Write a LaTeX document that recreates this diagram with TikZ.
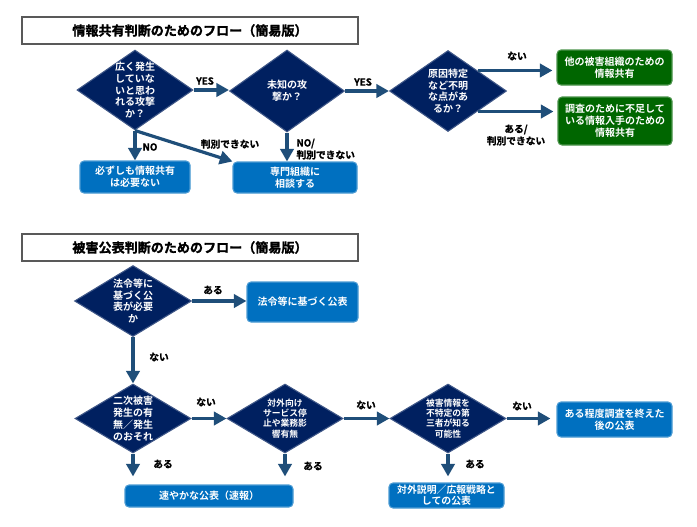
\documentclass[tikz,border=0pt]{standalone}
\usepackage{fontspec}
\setmainfont{Noto Sans CJK JP}[BoldFont={Noto Sans CJK JP Bold}]
\newfontfamily\heavyfont{Noto Sans CJK JP Bold}[FakeBold=1.5]
\usetikzlibrary{shapes.geometric,arrows.meta}

\definecolor{navy}{RGB}{0,32,96}
\definecolor{arrowblue}{RGB}{31,78,121}
\definecolor{boxblue}{RGB}{0,112,192}
\definecolor{boxgreen}{RGB}{0,102,0}

\tikzset{every picture/.style={line width=0.75pt}}
\tikzset{
  dec/.style={diamond, fill=navy, draw=navy!75!white, line width=0.8pt, inner sep=0pt},
  dectext/.style={text=white, font=\bfseries\fontsize{7.5}{8.8}\selectfont, align=center, inner sep=0pt},
  dectextsm/.style={text=white, font=\bfseries\fontsize{6.6}{7.7}\selectfont, align=center, inner sep=0pt},
  bluebox/.style={rounded corners=3pt, fill=boxblue, draw=boxblue!70!white, line width=0.8pt, text=white,
    font=\bfseries\fontsize{7.5}{9}\selectfont, align=center, inner sep=1pt},
  greenbox/.style={bluebox, fill=boxgreen, draw=boxgreen!70!white},
  ttl/.style={draw=black!65, line width=1.5pt, fill=white, font=\heavyfont\fontsize{9.8}{11}\selectfont,
    minimum width=252pt, minimum height=20.25pt, inner sep=0pt},
  lbl/.style={font=\heavyfont\fontsize{7.3}{9}\selectfont, align=center, inner sep=0pt},
  arr/.style={draw=arrowblue, line width=2.4pt, -{Triangle[length=9.5pt,width=10pt]}}
}

\begin{document}
\begin{tikzpicture}[x=0.75pt,y=0.75pt,yscale=-1,xscale=1]
    \path[use as bounding box] (0,0) rectangle (697,526);

    %Title: info sharing
    \node[ttl] (t1) at (190,30.5) {情報共有判断のためのフロー（簡易版）};

    %Flowchart: Decision
    \node[dec, minimum width=87pt, minimum height=60pt,
      label={[dectext]center:広く発生\\していな\\いと思わ\\れる攻撃\\か？}] (d1) at (135,90) {};
    \node[dec, minimum width=86.25pt, minimum height=61.5pt,
      label={[dectext]center:未知の攻\\撃か？}] (d2) at (287,91) {};
    \node[dec, minimum width=87.75pt, minimum height=60.75pt,
      label={[dectext]center:原因特定\\など不明\\な点があ\\るか？}] (d3) at (448,91) {};

    %Flowchart: Process
    \node[bluebox, minimum width=82.5pt, minimum height=24pt] (b1) at (135,177) {必ずしも情報共有\\は必要ない};
    \node[bluebox, minimum width=93pt, minimum height=23.25pt] (b2) at (295,177.5) {専門組織に\\相談する};
    \node[greenbox, minimum width=86.25pt, minimum height=26.25pt] (g1) at (614.5,67.5) {他の被害組織のための\\情報共有};
    \node[greenbox, minimum width=85.5pt, minimum height=36pt] (g2) at (615,121) {調査のために不足して\\いる情報入手のための\\情報共有};

    %Connectors
    \draw[arr] (d1.east) -- (d1.east -| d2.west);
    \draw[arr] (d2.east) -- (d2.east -| d3.west);
    \draw[arr] (d1.south) -- (b1.north);
    \draw[arr] (d1.south) -- (b2.north west);
    \draw[arr] (d2.south) -- (d2.south |- b2.north);
    \draw[arr, shorten >=3pt] (d3.north east) -- (d3.north east -| g1.west);
    \draw[arr, shorten >=3pt] (d3.south east) -- (d3.south east -| g2.west);

    % Text Node
    \node[lbl] (yes1) at (205,81) {YES};
    \node[lbl] (yes2) at (363,82) {YES};
    \node[lbl] (no1) at (150,147) {NO};
    \node[lbl] (unk1) at (230,144) {判別できない};
    \node[lbl, anchor=west, align=left] (no2) at (296,149) {NO/\\判別できない};
    \node[lbl] (nai1) at (517,56) {ない};
    \node[lbl] (aru1) at (516,135) {ある/\\判別できない};

    %Title: disclosure
    \node[ttl] (t2) at (190,247.5) {被害公表判断のためのフロー（簡易版）};

    %Flowchart: Decision
    \node[dec, minimum width=87.75pt, minimum height=53.25pt,
      label={[dectext]center:法令等に\\基づく公\\表が必要\\か}] (d4) at (133,301) {};
    \node[dec, minimum width=87pt, minimum height=51.75pt,
      label={[dectext, font=\bfseries\fontsize{7.5}{9}\selectfont]center:二次被害\\発生の有\\無／発生\\のおそれ}] (d5) at (133,418.5) {};
    \node[dec, minimum width=87pt, minimum height=51.75pt,
      label={[dectextsm]center:対外向け\\サービス停\\止や業務影\\響有無}] (d6) at (285,418.5) {};
    \node[dec, minimum width=87pt, minimum height=51.75pt,
      label={[dectextsm]center:被害情報を\\不特定の第\\三者が知る\\可能性}] (d7) at (448,418.5) {};

    %Flowchart: Process
    \node[bluebox, minimum width=83.25pt, minimum height=30pt] (b3) at (302.5,302) {法令等に基づく公表};
    \node[bluebox, minimum width=86.25pt, minimum height=26.25pt] (b4) at (614.5,419.5) {ある程度調査を終えた\\後の公表};
    \node[bluebox, minimum width=126pt, minimum height=16.5pt] (b5) at (209,496) {速やかな公表（速報）};
    \node[bluebox, minimum width=86.25pt, minimum height=18.75pt, font=\bfseries\fontsize{7.4}{8.6}\selectfont] (b6) at (446.5,495.5) {対外説明／広報戦略と\\しての公表};

    %Connectors
    \draw[arr] (d4.east) -- (d4.east -| b3.west);
    \draw[arr] (d4.south) -- (d5.north);
    \draw[arr] (d5.east) -- (d6.west);
    \draw[arr] (d6.east) -- (d7.west);
    \draw[arr, shorten >=4.5pt] (d7.east) -- (d7.east -| b4.west);
    \draw[arr, shorten >=6pt] (d5.south) -- (d5.south |- b5.north);
    \draw[arr, shorten >=6pt] (d6.south) -- (d6.south |- b5.north);
    \draw[arr, shorten >=4.5pt] (d7.south) -- (d7.south |- b6.north);

    % Text Node
    \node[lbl] (aru2) at (213,290) {ある};
    \node[lbl] (nai2) at (159,357) {ない};
    \node[lbl] (nai3) at (206,402) {ない};
    \node[lbl] (nai4) at (366,405) {ない};
    \node[lbl] (nai5) at (522,406) {ない};
    \node[lbl] (aru3) at (163,464) {ある};
    \node[lbl] (aru4) at (313,466) {ある};
    \node[lbl] (aru5) at (475,464) {ある};

\end{tikzpicture}
\end{document}
